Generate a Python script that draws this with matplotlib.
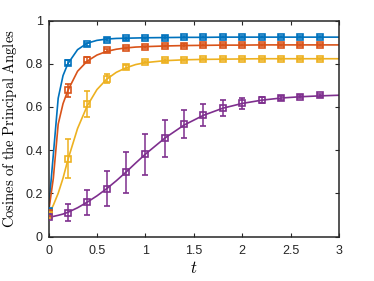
import numpy as np
import matplotlib
matplotlib.use("Agg")
import matplotlib.pyplot as plt

plt.rcParams['mathtext.fontset'] = 'cm'
plt.rcParams['font.family'] = ['Liberation Sans', 'DejaVu Sans']

# marker (sample) times
t_pts = [0, 0.2, 0.4, 0.6, 0.8, 1.0, 1.2, 1.4, 1.6, 1.8, 2.0, 2.2, 2.4, 2.6, 2.8]

blue_pts = [0.12, 0.805, 0.889, 0.912, 0.917, 0.92, 0.921, 0.922, 0.922, 0.923, 0.923, 0.923, 0.923, 0.923, 0.923]
blue_err = [0.008, 0.01, 0.006, 0.005, 0.005, 0.005, 0.005, 0.005, 0.005, 0.005, 0.005, 0.005, 0.005, 0.005, 0.005]

orange_pts = [0.11, 0.676, 0.819, 0.862, 0.873, 0.879, 0.882, 0.884, 0.885, 0.886, 0.886, 0.887, 0.887, 0.887, 0.887]
orange_err = [0.008, 0.03, 0.01, 0.006, 0.005, 0.005, 0.005, 0.005, 0.005, 0.005, 0.005, 0.005, 0.005, 0.005, 0.005]

yellow_pts = [0.10, 0.361, 0.614, 0.731, 0.784, 0.807, 0.815, 0.819, 0.821, 0.822, 0.823, 0.823, 0.823, 0.823, 0.823]
yellow_err = [0.008, 0.09, 0.06, 0.022, 0.01, 0.006, 0.005, 0.005, 0.005, 0.005, 0.005, 0.005, 0.005, 0.005, 0.005]

purple_pts = [0.09, 0.11, 0.159, 0.221, 0.298, 0.38, 0.455, 0.519, 0.563, 0.596, 0.617, 0.633, 0.642, 0.648, 0.653]
purple_err = [0.006, 0.04, 0.058, 0.08, 0.095, 0.095, 0.085, 0.065, 0.05, 0.036, 0.025, 0.015, 0.01, 0.008, 0.006]

# smooth model curves
t_line = [0, 0.05, 0.1, 0.15, 0.2, 0.3, 0.4, 0.5, 0.6, 0.7, 0.8, 0.9, 1.0,
          1.2, 1.4, 1.6, 1.8, 2.0, 2.2, 2.4, 2.6, 2.8, 3.0]
blue_line = [0.12, 0.38, 0.64, 0.745, 0.80, 0.865, 0.895, 0.908, 0.914, 0.917, 0.918, 0.919, 0.92,
             0.921, 0.922, 0.922, 0.923, 0.923, 0.923, 0.923, 0.923, 0.923, 0.923]
orange_line = [0.11, 0.27, 0.52, 0.615, 0.676, 0.765, 0.812, 0.840, 0.857, 0.867, 0.873, 0.877, 0.879,
               0.882, 0.884, 0.885, 0.886, 0.886, 0.887, 0.887, 0.887, 0.887, 0.887]
yellow_line = [0.10, 0.145, 0.20, 0.27, 0.355, 0.50, 0.605, 0.680, 0.728, 0.760, 0.781, 0.796, 0.805,
               0.814, 0.818, 0.820, 0.821, 0.822, 0.823, 0.823, 0.823, 0.823, 0.823]
purple_line = [0.09, 0.093, 0.098, 0.104, 0.112, 0.133, 0.159, 0.188, 0.221, 0.258, 0.298, 0.340, 0.381,
               0.455, 0.516, 0.561, 0.594, 0.616, 0.631, 0.641, 0.647, 0.651, 0.654]

colors = ['#0072BD', '#D95319', '#EDB120', '#7E2F8E']
series = [(blue_line, blue_pts, blue_err), (orange_line, orange_pts, orange_err),
          (yellow_line, yellow_pts, yellow_err), (purple_line, purple_pts, purple_err)]

fig = plt.figure(figsize=(3.74, 2.81), dpi=100)
ax = fig.add_axes([48.5/374, 1 - 236.5/281, (339 - 48.5)/374, (236.5 - 20.5)/281])

for (ln, pts, err), c in zip(series, colors):
    ax.plot(t_line, ln, color=c, lw=1.2, zorder=2)
    ax.errorbar(t_pts, pts, yerr=err, fmt='s', color=c, mfc='none', mec=c,
                ms=5, mew=1.2, elinewidth=1.1, capsize=2.5, capthick=1.1, zorder=3)

ax.set_xlim(0, 3)
ax.set_ylim(0, 1)
ax.set_xticks([0, 0.5, 1, 1.5, 2, 2.5, 3])
ax.set_xticklabels(['0', '0.5', '1', '1.5', '2', '2.5', '3'])
ax.set_yticks([0, 0.2, 0.4, 0.6, 0.8, 1])
ax.set_yticklabels(['0', '0.2', '0.4', '0.6', '0.8', '1'])
ax.tick_params(direction='in', top=True, right=True, length=3, width=0.8,
               labelsize=9, colors='#262626')
ax.tick_params(axis='x', pad=6)
ax.tick_params(axis='y', pad=4)
for s in ax.spines.values():
    s.set_linewidth(1.1)
    s.set_color('#262626')

ax.set_xlabel(r'$t$', fontsize=12, labelpad=2)
ax.set_ylabel(r'$\mathrm{Cosines\ of\ the\ Principal\ Angles}$', fontsize=10.5, labelpad=5)

fig.savefig('out.png', dpi=100)
